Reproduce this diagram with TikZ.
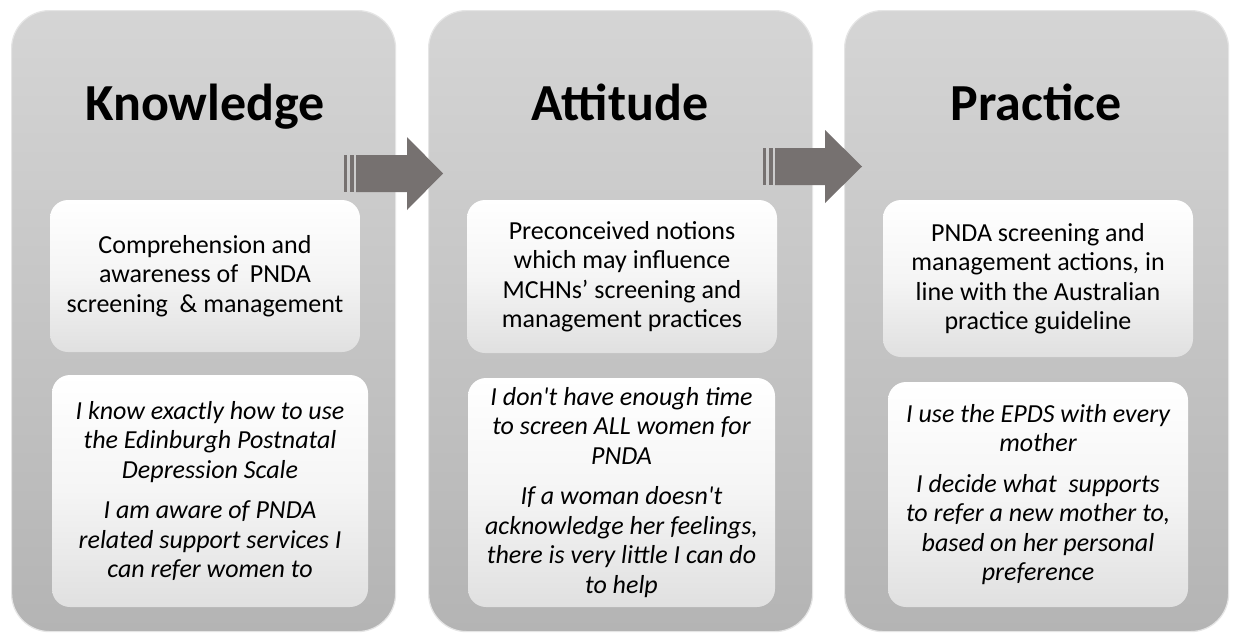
\documentclass[tikz,border=0pt]{standalone}
\usepackage{fontspec}
\setmainfont{Carlito}
\definecolor{pantop}{HTML}{D5D5D5}
\definecolor{panbot}{HTML}{B4B4B4}
\definecolor{boxbot}{HTML}{E0E0E0}
\definecolor{arrowgray}{HTML}{767170}
\begin{document}
\begin{tikzpicture}[x=1pt,y=-1pt,
  panel/.style={rounded corners=38pt, top color=pantop, bottom color=panbot,
    draw=white!90!black, line width=1.2pt, minimum width=384pt, minimum height=621pt,
    anchor=north west, inner sep=0pt},
  inbox/.style={rounded corners=18pt, top color=white, bottom color=boxbot,
    middle color=white!96!black, draw=none, align=center, inner sep=0pt},
  title/.style={font=\fontsize{52}{58}\selectfont\bfseries, anchor=base, inner sep=0pt},
  plain/.style={font=\fontsize{26}{29.5}\selectfont},
  quote/.style={font=\fontsize{26}{29.5}\selectfont\itshape},
  arr/.style={fill=arrowgray, draw=none}
]
\useasboundingbox[fill=white] (0,0) rectangle (1235,635);

% panels
\node[panel] (p1) at (11,10) {};
\node[panel] (p2) at (428,10) {};
\node[panel] (p3) at (844,10) {};

% titles
\node[title] (t1) at (205,120) {Knowledge};
\node[title] (t2) at (620,120) {Attitude};
\node[title] (t3) at (1036,120) {Practice};

% top boxes
\node[inbox, plain, minimum width=310pt, minimum height=152pt] (b1) at (205,276)
  {Comprehension and\\awareness of~ PNDA\\screening~ \& management};
\node[inbox, plain, minimum width=310pt, minimum height=153pt] (b2) at (622,276.5)
  {Preconceived notions\\which may influence\\MCHNs’ screening and\\management practices};
\node[inbox, plain, minimum width=310pt, minimum height=157pt] (b3) at (1038,278.5)
  {PNDA screening and\\management actions, in\\line with the Australian\\practice guideline};

% bottom boxes
\node[inbox, quote, minimum width=316pt, minimum height=232pt] (c1) at (210,491)
  {I know exactly how to use\\the Edinburgh Postnatal\\Depression Scale\\[11pt]
   I am aware of PNDA\\related support services I\\can refer women to};
\node[inbox, quote, minimum width=307pt, minimum height=229pt] (c2) at (621.5,492.5)
  {I don\textquotesingle t have enough time\\to screen ALL women for\\PNDA\\[11pt]
   If a woman doesn\textquotesingle t\\acknowledge her feelings,\\there is very little I can do\\to help};
\node[inbox, quote, minimum width=300pt, minimum height=225pt] (c3) at (1038,494.5)
  {I use the EPDS with every\\mother\\[11pt]
   I decide what~ supports\\to refer a new mother to,\\based on her personal\\preference};

% block arrows
\fill[arr] (356,155) -- (407,155) -- (407,137) -- (443,173.5) -- (407,210) -- (407,192) -- (356,192) -- cycle;
\fill[arr] (344,155) rectangle (347,192);
\fill[arr] (350,155) rectangle (354,192);

\fill[arr] (775,148) -- (825,148) -- (825,130) -- (862,166.5) -- (825,203) -- (825,185) -- (775,185) -- cycle;
\fill[arr] (763,148) rectangle (766,185);
\fill[arr] (769,148) rectangle (773,185);
\end{tikzpicture}
\end{document}
